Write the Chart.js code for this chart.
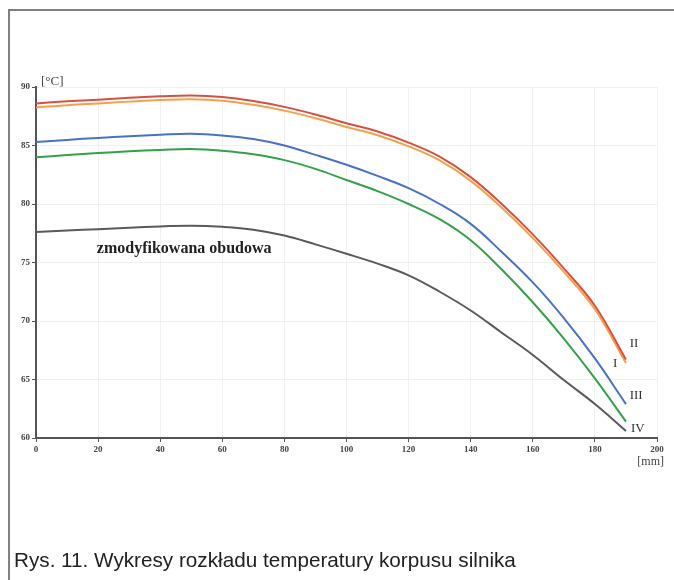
<!DOCTYPE html>
<html>
<head>
<meta charset="utf-8">
<script src="https://cdn.jsdelivr.net/npm/chart.js@4"></script>
<style>
    html, body { margin: 0; padding: 0; background: #fff; }
    #wrap { position: relative; width: 674px; height: 580px; overflow: hidden; }
    #tempChart { position: absolute; left: 0; top: 0; }
    #frame {
        position: absolute; left: 8px; top: 9px; width: 680px; height: 600px;
        border-left: 2px solid #808080; border-top: 2px solid #808080;
    }
    #caption {
        position: absolute; left: 14px; top: 548px;
        font: 20.7px "Liberation Sans", Arial, sans-serif; color: #222;
        white-space: nowrap;
    }
</style>
</head>
<body>
<div id="wrap">
    <canvas id="tempChart" width="674" height="580"></canvas>
    <div id="frame"></div>
    <div id="caption">Rys. 11. Wykresy rozkładu temperatury korpusu silnika</div>
</div>
<script>
// === Dane (co 10 mm) ===
const positionsMm = [0, 10, 20, 30, 40, 50, 60, 70, 80, 90, 100, 110, 120, 130, 140, 150, 160, 170, 180, 190];
const curveII  = [88.6, 88.78, 88.92, 89.08, 89.2, 89.28, 89.15, 88.8, 88.3, 87.65, 86.9, 86.2, 85.25, 84.05, 82.3, 80.0, 77.4, 74.5, 71.3, 66.7];
const curveI   = [88.25, 88.45, 88.6, 88.75, 88.88, 88.95, 88.83, 88.48, 87.98, 87.33, 86.58, 85.88, 84.93, 83.73, 81.98, 79.68, 77.08, 74.2, 71.0, 66.4];
const curveIII = [85.3, 85.48, 85.65, 85.8, 85.92, 86.0, 85.85, 85.55, 85.0, 84.2, 83.35, 82.4, 81.35, 80.0, 78.3, 75.9, 73.3, 70.25, 66.8, 62.9];
const curveIV  = [84.0, 84.18, 84.35, 84.5, 84.62, 84.7, 84.55, 84.25, 83.75, 83.0, 82.05, 81.1, 80.0, 78.7, 76.9, 74.4, 71.6, 68.5, 65.1, 61.4];
const curveMod = [77.6, 77.73, 77.85, 77.98, 78.08, 78.15, 78.05, 77.8, 77.3, 76.55, 75.75, 74.9, 73.9, 72.5, 70.9, 69.0, 67.1, 64.95, 62.9, 60.6];
const xTicks = [0, 20, 40, 60, 80, 100, 120, 140, 160, 180, 200];
const yTicks = [60, 65, 70, 75, 80, 85, 90];

const toPoints = vals => vals.map((v, i) => ({ x: positionsMm[i], y: v }));

// etykiety krzywych (w jednostkach danych)
const curveLabels = [
    { text: 'II',  x: 191.2, y: 68.1 },
    { text: 'I',   x: 185.8, y: 66.4 },
    { text: 'III', x: 191.2, y: 63.6 },
    { text: 'IV',  x: 191.6, y: 60.8 }
];

const annotations = {
    id: 'annotations',
    afterDraw(chart) {
        const { ctx, scales } = chart;
        const xs = scales.x, ys = scales.y;
        ctx.save();
        ctx.fillStyle = '#333';
        ctx.textBaseline = 'middle';

        // nazwy krzywych
        ctx.font = '13px "Liberation Serif", serif';
        ctx.textAlign = 'left';
        curveLabels.forEach(l => {
            ctx.fillText(l.text, xs.getPixelForValue(l.x), ys.getPixelForValue(l.y));
        });

        // opis obudowy
        ctx.font = 'bold 16px "Liberation Serif", serif';
        ctx.fillStyle = '#222';
        ctx.fillText('zmodyfikowana obudowa', xs.getPixelForValue(19.6), ys.getPixelForValue(76.2));

        // jednostki osi
        ctx.font = '13px "Liberation Serif", serif';
        ctx.fillStyle = '#444';
        ctx.fillText('[°C]', xs.left + 5, ys.top - 5);
        ctx.font = '12px "Liberation Serif", serif';
        ctx.textAlign = 'right';
        ctx.fillText('[mm]', xs.right + 7, xs.bottom - 6);
        ctx.restore();
    }
};

new Chart(document.getElementById('tempChart'), {
    type: 'line',
    data: {
        datasets: [
            { label: 'II',  data: toPoints(curveII),  borderColor: '#d9503e' },
            { label: 'I',   data: toPoints(curveI),   borderColor: '#f2a24e' },
            { label: 'III', data: toPoints(curveIII), borderColor: '#4a72c4' },
            { label: 'IV',  data: toPoints(curveIV),  borderColor: '#35a04a' },
            { label: 'zmodyfikowana obudowa', data: toPoints(curveMod), borderColor: '#5a5a5a' }
        ]
    },
    options: {
        responsive: false,
        animation: false,
        devicePixelRatio: 1,
        layout: { padding: { left: 0, top: 87, right: 17, bottom: 112 } },
        elements: {
            line: { borderWidth: 2, tension: 0.4, fill: false },
            point: { radius: 0 }
        },
        plugins: {
            legend: { display: false },
            tooltip: { enabled: false }
        },
        scales: {
            x: {
                type: 'linear',
                min: 0,
                max: 200,
                afterFit: s => { s.height = 30; },
                afterBuildTicks: s => { s.ticks = xTicks.map(v => ({ value: v })); },
                border: { color: '#555', width: 2 },
                grid: { color: '#f1f1f1', tickColor: '#555', tickLength: 4 },
                ticks: {
                    color: '#444',
                    padding: 2,
                    maxRotation: 0,
                    font: { family: 'Liberation Serif', size: 9, weight: 'bold' }
                }
            },
            y: {
                type: 'linear',
                min: 60,
                max: 90,
                afterFit: s => { s.width = 36; },
                afterBuildTicks: s => { s.ticks = yTicks.map(v => ({ value: v })); },
                border: { color: '#555', width: 2 },
                grid: { color: '#f1f1f1', tickColor: '#555', tickLength: 4 },
                ticks: {
                    color: '#444',
                    padding: 2,
                    font: { family: 'Liberation Serif', size: 9, weight: 'bold' }
                }
            }
        }
    },
    plugins: [annotations]
});
</script>
</body>
</html>
